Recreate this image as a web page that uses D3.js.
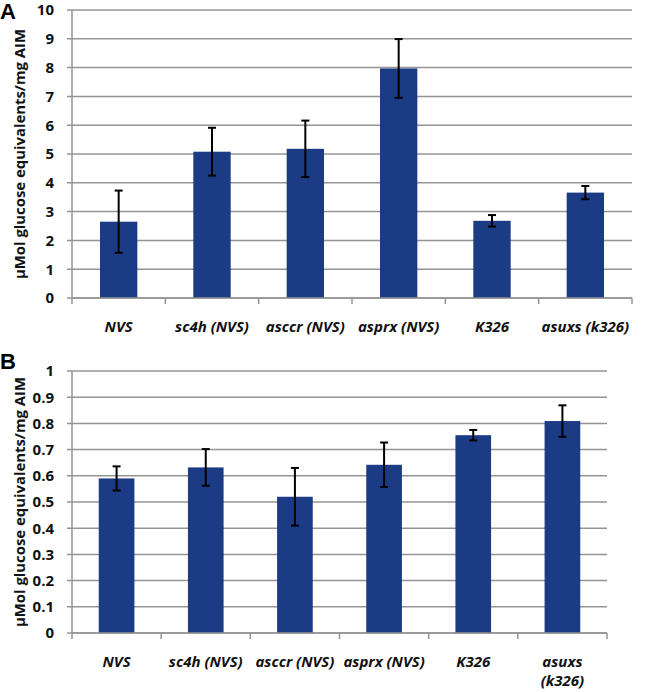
<!DOCTYPE html>
<html><head><meta charset="utf-8">
<script src="https://cdn.jsdelivr.net/npm/d3@7"></script>
<style>body{margin:0;background:#fff}svg{display:block}</style>
</head><body><svg id="c" width="649" height="692"></svg>
<script>
const categoriesA = ["NVS","sc4h (NVS)","asccr (NVS)","asprx (NVS)","K326","asuxs (k326)"];
const valuesA = [2.65, 5.08, 5.18, 7.97, 2.68, 3.66];
const errorsA = [1.08, 0.83, 0.98, 1.02, 0.2, 0.23];
const ticksA = [0,1,2,3,4,5,6,7,8,9,10];

const categoriesB = ["NVS","sc4h (NVS)","asccr (NVS)","asprx (NVS)","K326","asuxs (k326)"];
const valuesB = [0.59, 0.632, 0.52, 0.642, 0.755, 0.809];
const errorsB = [0.046, 0.07, 0.11, 0.085, 0.02, 0.06];
const ticksB = [0,0.1,0.2,0.3,0.4,0.5,0.6,0.7,0.8,0.9,1];

const yTitle = "µMol glucose equivalents/mg AIM";
const barColor = "#1b3b84";
const gridColor = "#949494";
const font = "'Open Sans', Lato, sans-serif";

const svg = d3.select("#c");

function panel(opts){
  const {cats, vals, errs, ticks, max, x0, x1, yTop, yBot, letter, letterY, letterSize, wrapLast} = opts;
  const g = svg.append("g");
  const x = d3.scaleBand().domain(cats).range([x0, x1]).paddingInner(0.6).paddingOuter(0.3);
  const xb = d3.scaleBand().domain(cats).range([x0, x1]);
  const y = d3.scaleLinear().domain([0, max]).range([yBot, yTop]);

  g.selectAll("line.grid").data(ticks).join("line")
    .attr("x1", x0 - 5).attr("x2", x1)
    .attr("y1", d => y(d)).attr("y2", d => y(d))
    .attr("stroke", gridColor).attr("stroke-width", 1.5);
  g.append("line").attr("x1", x0).attr("x2", x0).attr("y1", yTop).attr("y2", yBot)
    .attr("stroke", gridColor).attr("stroke-width", 1.5);
  g.selectAll("text.yt").data(ticks).join("text")
    .attr("x", x0 - 18).attr("y", d => y(d)).attr("dy", "0.36em")
    .attr("text-anchor", "end").attr("font-family", font).attr("font-weight", "bold")
    .attr("font-size", 15).attr("fill", "#111").text(d => d3.format("")(d));

  g.selectAll("rect.bar").data(vals).join("rect")
    .attr("x", (d,i) => x(cats[i])).attr("width", x.bandwidth())
    .attr("y", d => y(d)).attr("height", d => yBot - y(d)).attr("fill", barColor);

  g.append("line").attr("x1", x0).attr("x2", x1).attr("y1", yBot).attr("y2", yBot)
    .attr("stroke", gridColor).attr("stroke-width", 1.5);
  const bounds = cats.map(c => xb(c)).concat([x1]);
  g.selectAll("line.xt").data(bounds).join("line")
    .attr("x1", d => d).attr("x2", d => d).attr("y1", yBot).attr("y2", yBot + 6)
    .attr("stroke", gridColor).attr("stroke-width", 1.5);

  const cx = i => x(cats[i]) + x.bandwidth()/2;
  vals.forEach((v,i) => {
    const e = errs[i];
    g.append("line").attr("x1", cx(i)).attr("x2", cx(i)).attr("y1", y(v+e)).attr("y2", y(v-e))
      .attr("stroke", "#000").attr("stroke-width", 2);
    [v+e, v-e].forEach(t => g.append("line").attr("x1", cx(i)-4).attr("x2", cx(i)+4)
      .attr("y1", y(t)).attr("y2", y(t)).attr("stroke", "#000").attr("stroke-width", 2));
  });

  cats.forEach((c,i) => {
    const t = g.append("text").attr("x", xb(c) + xb.bandwidth()/2).attr("y", yBot + 34)
      .attr("text-anchor", "middle").attr("font-family", font).attr("font-weight", "bold")
      .attr("font-style", "italic").attr("font-size", 15).attr("fill", "#111");
    if (wrapLast && i === cats.length - 1) {
      const parts = c.split(" ");
      t.append("tspan").attr("x", xb(c) + xb.bandwidth()/2).text(parts[0]);
      t.append("tspan").attr("x", xb(c) + xb.bandwidth()/2).attr("dy", 19).text(parts[1]);
    } else t.text(c);
  });

  const cy = (yTop + yBot)/2;
  g.append("text").attr("transform", `translate(25,${cy}) rotate(-90)`)
    .attr("text-anchor", "middle").attr("font-family", font).attr("font-weight", "bold")
    .attr("font-size", 14).attr("fill", "#111")
    .attr("textLength", 250).attr("lengthAdjust", "spacingAndGlyphs").text(yTitle);

  g.append("text").attr("x", 0).attr("y", letterY).attr("font-family", "'Liberation Sans', Arial, sans-serif")
    .attr("font-weight", "bold").attr("font-size", letterSize).attr("fill", "#000").text(letter);
}

panel({cats: categoriesA, vals: valuesA, errs: errorsA, ticks: ticksA, max: 10,
  x0: 72, x1: 632, yTop: 10, yBot: 298, letter: "A", letterY: 19, letterSize: 22, wrapLast: false});
panel({cats: categoriesB, vals: valuesB, errs: errorsB, ticks: ticksB, max: 1,
  x0: 72, x1: 607, yTop: 371, yBot: 633, letter: "B", letterY: 369, letterSize: 22, wrapLast: true});
</script></body></html>
